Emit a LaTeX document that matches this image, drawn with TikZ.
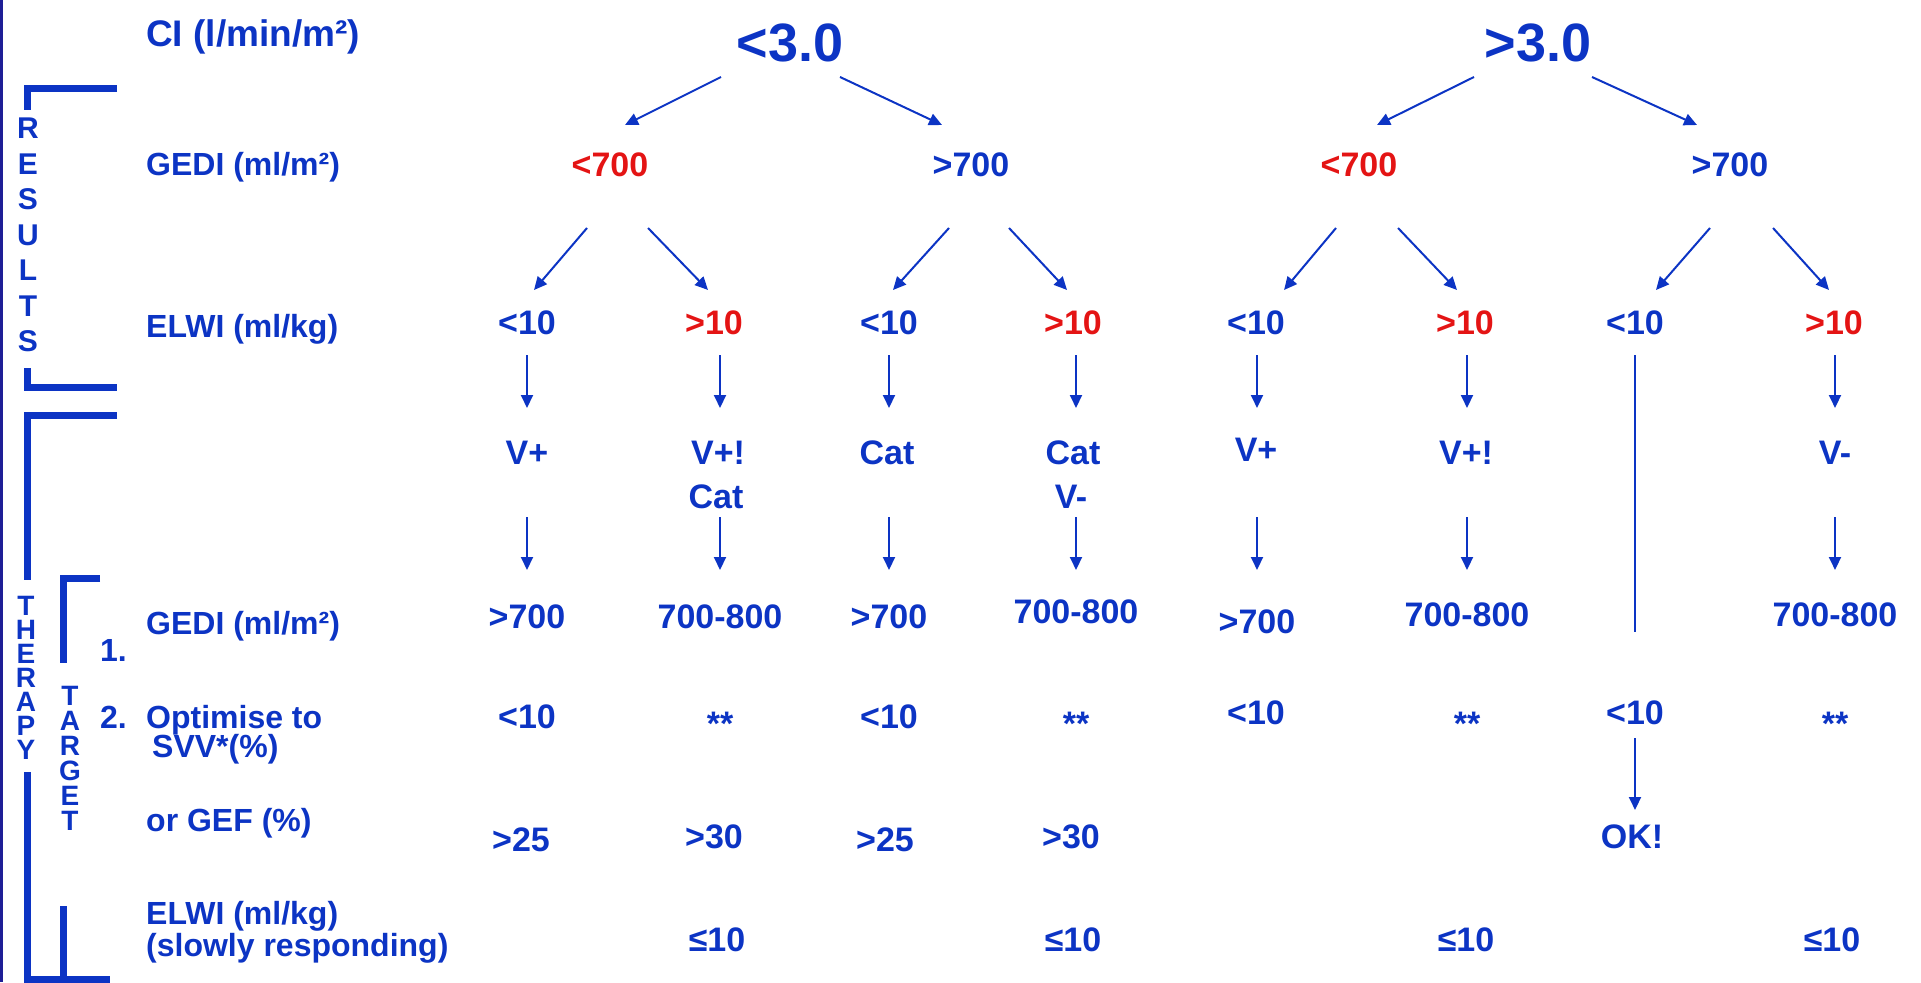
\documentclass[tikz,border=0pt]{standalone}
\usepackage{fontspec}
\setmainfont{Liberation Sans}
\usetikzlibrary{arrows.meta}
\definecolor{tb}{RGB}{12,52,196}
\definecolor{tr}{RGB}{228,20,20}
\definecolor{frm}{RGB}{30,30,150}
\begin{document}
\begin{tikzpicture}[x=1pt,y=-1pt,
  lab/.style={anchor=base west,inner sep=0,text=tb,font=\fontsize{32}{36}\selectfont\bfseries},
  val/.style={inner sep=0,text=tb,font=\fontsize{34}{38}\selectfont\bfseries},
  redval/.style={val,text=tr},
  big/.style={inner sep=0,text=tb,font=\fontsize{54}{60}\selectfont\bfseries},
  stack/.style={inner sep=0,text=tb,align=center},
  arr/.style={draw=tb,line width=2pt,-{Triangle[length=13pt,width=12pt]}},
  plain/.style={draw=tb,line width=2pt},
  brk/.style={draw=tb,line width=7pt},
]
\useasboundingbox (0,0) rectangle (1921,982);
\draw[frm,line width=2.5pt] (1.5,0) -- (1.5,982);

% row labels
\node[lab,font=\fontsize{37}{40}\selectfont\bfseries] (lci) at (146,47) {CI (l/min/m²)};
\node[lab] (lgedi) at (146,175) {GEDI (ml/m²)};
\node[lab] (lelwi) at (146,337) {ELWI (ml/kg)};
\node[lab] (lgedi2) at (146,634) {GEDI (ml/m²)};
\node[lab] (lone) at (100,661) {1.};
\node[lab] (ltwo) at (100,728) {2.};
\node[lab] (lopt) at (146,728) {Optimise to};
\node[lab] (lsvv) at (152,757) {SVV*(\%)};
\node[lab] (lgef) at (146,831) {or GEF (\%)};
\node[lab] (lelwi2) at (146,924) {ELWI (ml/kg)};
\node[lab] (lslow) at (146,956) {(slowly responding)};

% brackets
\draw[brk] (117,88) -- (27,88) -- (27,110);
\draw[brk] (27,368) -- (27,387) -- (117,387);
\node[stack,font=\fontsize{30}{35.5}\selectfont\bfseries] (results) at (28,235)
  {R\\E\\S\\U\\L\\T\\S};
\draw[brk] (117,415) -- (27,415) -- (27,580);
\node[stack,font=\fontsize{28}{24}\selectfont\bfseries] (therapy) at (26,678)
  {T\\H\\E\\R\\A\\P\\Y};
\draw[brk] (27,772) -- (27,979) -- (110,979);
\draw[brk] (100,578) -- (63,578) -- (63,663);
\node[stack,font=\fontsize{28}{25}\selectfont\bfseries] (target) at (70,758)
  {T\\A\\R\\G\\E\\T};
\draw[brk] (63,906) -- (63,979);

% top
\node[big] (c30) at (790,43) {<3.0};
\node[big] (c31) at (1538,43) {>3.0};

% GEDI row
\node[redval] (g1) at (610,165) {<700};
\node[val] (g2) at (971,165) {>700};
\node[redval] (g3) at (1359,165) {<700};
\node[val] (g4) at (1730,165) {>700};

% ELWI row
\node[val] (e1) at (527,323) {<10};
\node[redval] (e2) at (714,323) {>10};
\node[val] (e3) at (889,323) {<10};
\node[redval] (e4) at (1073,323) {>10};
\node[val] (e5) at (1256,323) {<10};
\node[redval] (e6) at (1465,323) {>10};
\node[val] (e7) at (1635,323) {<10};
\node[redval] (e8) at (1834,323) {>10};

% therapy
\node[val] (t1) at (527,453) {V+};
\node[val] (t2) at (718,453) {V+!};
\node[val] (t2b) at (716,497) {Cat};
\node[val] (t3) at (887,453) {Cat};
\node[val] (t4) at (1073,453) {Cat};
\node[val] (t4b) at (1071,497) {V-};
\node[val] (t5) at (1256,450) {V+};
\node[val] (t6) at (1466,453) {V+!};
\node[val] (t8) at (1835,453) {V-};

% therapy GEDI
\node[val] (h1) at (527,617) {>700};
\node[val] (h2) at (720,617) {700-800};
\node[val] (h3) at (889,617) {>700};
\node[val] (h4) at (1076,612) {700-800};
\node[val] (h5) at (1257,622) {>700};
\node[val] (h6) at (1467,615) {700-800};
\node[val] (h8) at (1835,615) {700-800};

% SVV
\node[val] (s1) at (527,717) {<10};
\node[val] (s2) at (720,724) {**};
\node[val] (s3) at (889,717) {<10};
\node[val] (s4) at (1076,724) {**};
\node[val] (s5) at (1256,713) {<10};
\node[val] (s6) at (1467,724) {**};
\node[val] (s7) at (1635,713) {<10};
\node[val] (s8) at (1835,724) {**};

% GEF
\node[val] (f1) at (521,840) {>25};
\node[val] (f2) at (714,837) {>30};
\node[val] (f3) at (885,840) {>25};
\node[val] (f4) at (1071,837) {>30};
\node[val] (ok) at (1632,837) {OK!};

% ELWI final
\node[val] (l2) at (717,940) {≤10};
\node[val] (l4) at (1073,940) {≤10};
\node[val] (l6) at (1466,940) {≤10};
\node[val] (l8) at (1832,940) {≤10};

% diagonal arrows
\draw[arr] ([shift={(-69,34)}]c30.center) -- ([shift={(15,-40)}]g1.center);
\draw[arr] ([shift={(50,34)}]c30.center) -- ([shift={(-29,-40)}]g2.center);
\draw[arr] ([shift={(-64,34)}]c31.center) -- ([shift={(18,-40)}]g3.center);
\draw[arr] ([shift={(54,34)}]c31.center) -- ([shift={(-33,-40)}]g4.center);

\draw[arr] ([shift={(-23,63)}]g1.center) -- ([shift={(7,-33)}]e1.center);
\draw[arr] ([shift={(38,63)}]g1.center) -- ([shift={(-6,-33)}]e2.center);
\draw[arr] ([shift={(-22,63)}]g2.center) -- ([shift={(4,-33)}]e3.center);
\draw[arr] ([shift={(38,63)}]g2.center) -- ([shift={(-6,-33)}]e4.center);
\draw[arr] ([shift={(-23,63)}]g3.center) -- ([shift={(28,-33)}]e5.center);
\draw[arr] ([shift={(39,63)}]g3.center) -- ([shift={(-8,-33)}]e6.center);
\draw[arr] ([shift={(-20,63)}]g4.center) -- ([shift={(21,-33)}]e7.center);
\draw[arr] ([shift={(43,63)}]g4.center) -- ([shift={(-5,-33)}]e8.center);

% vertical arrows
\coordinate (ra) at (0,355);
\coordinate (rb) at (0,408);
\coordinate (rc) at (0,517);
\coordinate (rd) at (0,570);
\coordinate (re) at (0,632);
\coordinate (rf) at (0,738);
\coordinate (rg) at (0,810);
\foreach \n in {h1,h2,h3,h4,h5,h6,h8} {
  \draw[arr] (\n |- ra) -- (\n |- rb);
  \draw[arr] (\n |- rc) -- (\n |- rd);
}
\draw[plain] (e7 |- ra) -- (e7 |- re);
\draw[arr] (s7 |- rf) -- (s7 |- rg);
\end{tikzpicture}
\end{document}
